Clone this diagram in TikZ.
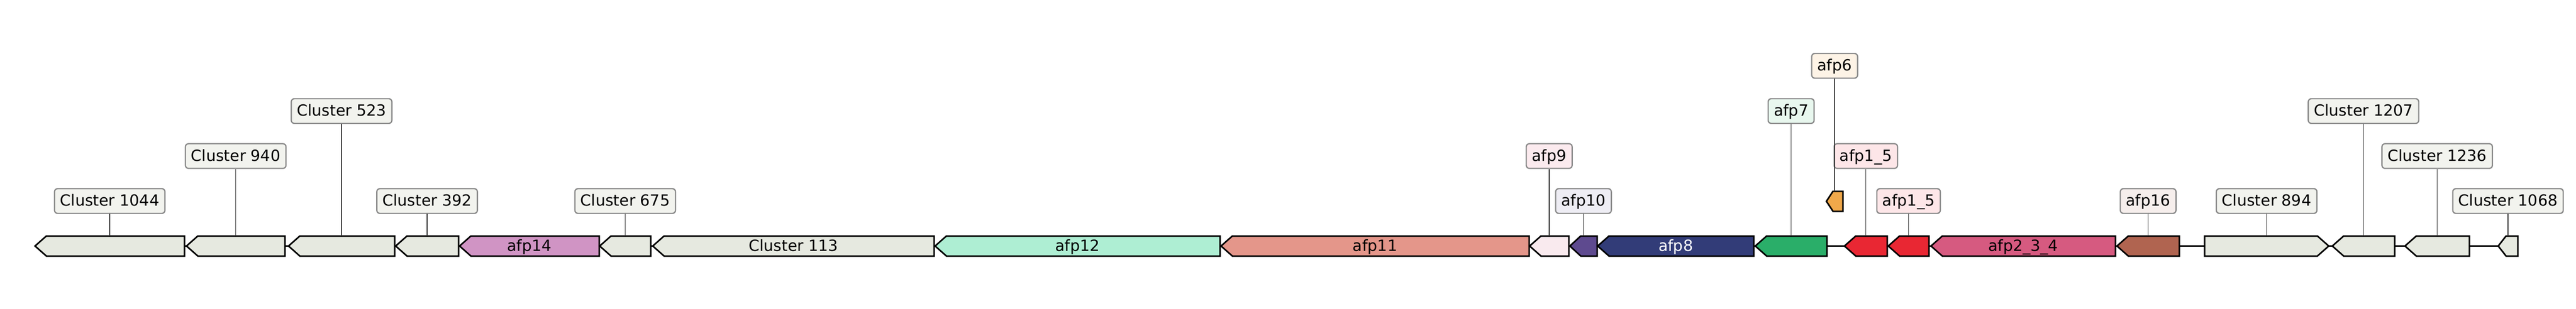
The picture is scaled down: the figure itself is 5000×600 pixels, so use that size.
\documentclass[tikz,border=0pt]{standalone}
\usepackage{fontspec}
\setmainfont{DejaVu Sans}
\definecolor{cgray}{HTML}{E6E9E0}
\definecolor{lgray}{HTML}{F2F3EE}
\definecolor{cafpxiv}{HTML}{D094C4}
\definecolor{cafpxii}{HTML}{AEEED3}
\definecolor{cafpxi}{HTML}{E4968A}
\definecolor{cafpix}{HTML}{F9EAEE}
\definecolor{lafpix}{HTML}{FBEAEE}
\definecolor{cafpx}{HTML}{5E4A8F}
\definecolor{lafpx}{HTML}{EEEDF4}
\definecolor{cafpviii}{HTML}{323C78}
\definecolor{cafpvii}{HTML}{2AAE69}
\definecolor{lafpvii}{HTML}{E8F7EE}
\definecolor{cafpvi}{HTML}{F0A84A}
\definecolor{lafpvi}{HTML}{FDF3E6}
\definecolor{cafpi}{HTML}{E92733}
\definecolor{lafpi}{HTML}{FDE6E8}
\definecolor{cafpii}{HTML}{D65A80}
\definecolor{cafpxvi}{HTML}{B06450}
\definecolor{lafpxvi}{HTML}{F6EEEC}
\definecolor{lborder}{HTML}{888888}
\newcommand\geneL[5]{%
  \pgfmathsetmacro\gtip{min(22,0.4*(#3-#2))}%
  \draw[genebox, fill=#5] (#2,#4) -- ({#2+\gtip},{#4-19.5}) -- (#3,{#4-19.5}) -- (#3,{#4+19.5}) -- ({#2+\gtip},{#4+19.5}) -- cycle;%
  \coordinate (#1) at ({(#2+#3)/2},{#4-19.5});%
}
\newcommand\geneR[5]{%
  \pgfmathsetmacro\gtip{min(22,0.4*(#3-#2))}%
  \draw[genebox, fill=#5] (#2,{#4-19.5}) -- ({#3-\gtip},{#4-19.5}) -- (#3,#4) -- ({#3-\gtip},{#4+19.5}) -- (#2,{#4+19.5}) -- cycle;%
  \coordinate (#1) at ({(#2+#3)/2},{#4-19.5});%
}
\begin{document}
\begin{tikzpicture}[x=0.5pt,y=-0.5pt,
  genebox/.style={draw=black, line width=1.5pt, line join=miter},
  backbone/.style={draw=black, line width=1.75pt},
  lab/.style={draw=lborder, line width=1.2pt, rounded corners=3pt, minimum height=24pt,
    inner xsep=5.5pt, inner ysep=0pt, text height=12.5pt, text depth=2.8pt,
    font=\fontsize{15}{18}\selectfont, text=black},
  gtext/.style={inner sep=0pt, text height=12.5pt, text depth=2.8pt,
    font=\fontsize{15}{18}\selectfont, text=black},
  conn/.style={draw=black!80, line width=0.6pt}]
\useasboundingbox (0,0) rectangle (5000,600);
\fill[white] (0,0) rectangle (5000,600);
% backbone
\coordinate (bbL) at (68,478.5);
\coordinate (bbR) at (4887,478.5);
\draw[backbone] (bbL) -- (bbR);
% genes
\geneL{g1}{68}{358}{478.5}{cgray}
\geneL{g2}{362}{553}{478.5}{cgray}
\geneL{g3}{560}{766}{478.5}{cgray}
\geneL{g4}{768}{890}{478.5}{cgray}
\geneL{g5}{892}{1163}{478.5}{cafpxiv}
\geneL{g6}{1164}{1263}{478.5}{cgray}
\geneL{g7}{1267}{1813}{478.5}{cgray}
\geneL{g8}{1815}{2368}{478.5}{cafpxii}
\geneL{g9}{2370}{2968}{478.5}{cafpxi}
\geneL{g10}{2969}{3045}{478.5}{cafpix}
\geneL{g11}{3047}{3100}{478.5}{cafpx}
\geneL{g12}{3101}{3404}{478.5}{cafpviii}
\geneL{g13}{3407}{3546}{478.5}{cafpvii}
\geneL{g14}{3545}{3577}{391.5}{cafpvi}
\geneL{g15}{3580}{3663}{478.5}{cafpi}
\geneL{g16}{3665}{3744}{478.5}{cafpi}
\geneL{g17}{3748}{4106}{478.5}{cafpii}
\geneL{g18}{4109}{4230}{478.5}{cafpxvi}
\geneR{g19}{4279}{4520}{478.5}{cgray}
\geneL{g20}{4527}{4648}{478.5}{cgray}
\geneL{g21}{4668}{4793}{478.5}{cgray}
\geneL{g22}{4849}{4887}{478.5}{cgray}
% texts inside genes
\node[gtext] (t5) at (1027.5,478.5) {afp14};
\node[gtext] (t7) at (1540,478.5) {Cluster 113};
\node[gtext] (t8) at (2091.5,478.5) {afp12};
\node[gtext] (t9) at (2669,478.5) {afp11};
\node[gtext, text=white] (t12) at (3252.5,478.5) {afp8};
\node[gtext] (t17) at (3927,478.5) {afp2\_3\_4};
% labels
\node[lab, fill=lgray] (l1) at (213,391) {Cluster 1044};
\node[lab, fill=lgray] (l2) at (457.5,303.5) {Cluster 940};
\node[lab, fill=lgray] (l3) at (663,216) {Cluster 523};
\node[lab, fill=lgray] (l4) at (829,391) {Cluster 392};
\node[lab, fill=lgray] (l6) at (1213.5,391) {Cluster 675};
\node[lab, fill=lafpix] (l10) at (3007,303.5) {afp9};
\node[lab, fill=lafpx] (l11) at (3073.5,391) {afp10};
\node[lab, fill=lafpvii] (l13) at (3476.5,216) {afp7};
\node[lab, fill=lafpvi] (l14) at (3561,128) {afp6};
\node[lab, fill=lafpi] (l15) at (3621.5,303.5) {afp1\_5};
\node[lab, fill=lafpi] (l16) at (3704.5,391) {afp1\_5};
\node[lab, fill=lafpxvi] (l18) at (4169.5,391) {afp16};
\node[lab, fill=lgray] (l19) at (4399.5,391) {Cluster 894};
\node[lab, fill=lgray] (l20) at (4587.5,216) {Cluster 1207};
\node[lab, fill=lgray] (l21) at (4730.5,303.5) {Cluster 1236};
\node[lab, fill=lgray] (l22) at (4868,391) {Cluster 1068};
% connectors
\draw[conn] (l1.south) -- (g1);
\draw[conn] (l2.south) -- (g2);
\draw[conn] (l3.south) -- (g3);
\draw[conn] (l4.south) -- (g4);
\draw[conn] (l6.south) -- (g6);
\draw[conn] (l10.south) -- (g10);
\draw[conn] (l11.south) -- (g11);
\draw[conn] (l13.south) -- (g13);
\draw[conn] (l14.south) -- (g14);
\draw[conn] (l15.south) -- (g15);
\draw[conn] (l16.south) -- (g16);
\draw[conn] (l18.south) -- (g18);
\draw[conn] (l19.south) -- (g19);
\draw[conn] (l20.south) -- (g20);
\draw[conn] (l21.south) -- (g21);
\draw[conn] (l22.south) -- (g22);
\end{tikzpicture}
\end{document}
